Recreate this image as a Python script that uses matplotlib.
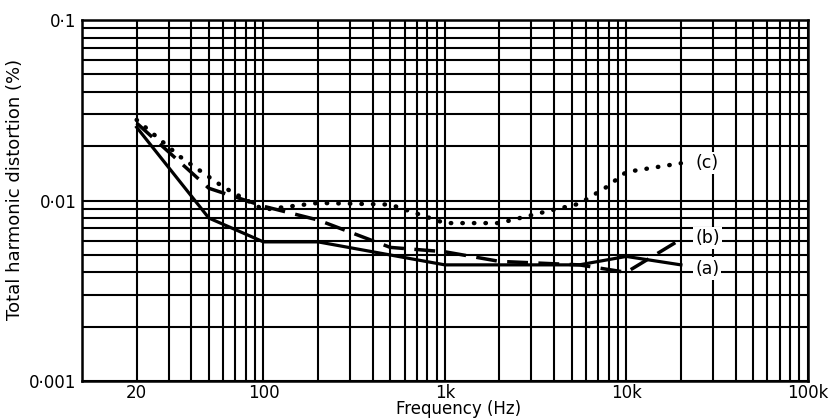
import matplotlib.pyplot as plt
import numpy as np
from matplotlib.ticker import LogLocator, NullFormatter, FixedLocator

plt.rcParams['font.family'] = ['DejaVu Sans']

# curve (a): solid
freq_a = [20, 50, 100, 200, 1000, 5500, 10000, 20000]
thd_a = [0.0255, 0.0080, 0.0059, 0.0059, 0.0044, 0.0044, 0.0049, 0.0044]

# curve (b): dashed
freq_b = [20, 50, 100, 200, 500, 1000, 2000, 5500, 10000, 20000]
thd_b = [0.0269, 0.0117, 0.0093, 0.0078, 0.0055, 0.0052, 0.0046, 0.0044, 0.0040, 0.0061]

# curve (c): dotted
freq_c = [20, 35, 60, 100, 200, 500, 1000, 2000, 3300, 5500, 7800, 10000, 20000]
thd_c = [0.028, 0.0174, 0.0119, 0.0089, 0.0097, 0.0095, 0.0075, 0.0075, 0.0085, 0.0096, 0.0119, 0.0144, 0.0161]

xtick_vals = [20, 100, 1000, 10000, 100000]
xtick_labels = ['20', '100', '1k', '10k', '100k']
ytick_vals = [0.001, 0.01, 0.1]
ytick_labels = ['0·001', '0·01', '0·1']

fig = plt.figure(figsize=(8.37, 4.2), dpi=100)
ax = fig.add_axes([0.098, 0.093, 0.867, 0.859])
ax.set_xscale('log')
ax.set_yscale('log')
ax.set_xlim(10, 100000)
ax.set_ylim(0.001, 0.1)

ax.xaxis.set_minor_locator(LogLocator(base=10, subs=np.arange(1, 10)))
ax.yaxis.set_minor_locator(LogLocator(base=10, subs=np.arange(1, 10)))
ax.xaxis.set_minor_formatter(NullFormatter())
ax.yaxis.set_minor_formatter(NullFormatter())
ax.grid(True, which='both', color='black', linewidth=1.5)
ax.set_axisbelow(True)

ax.xaxis.set_major_locator(FixedLocator(xtick_vals))
ax.set_xticklabels(xtick_labels)
ax.set_yticks(ytick_vals)
ax.set_yticklabels(ytick_labels)
ax.tick_params(which='both', length=0, labelsize=12)
ax.tick_params(axis='x', pad=2)
ax.tick_params(axis='y', pad=4)

for s in ax.spines.values():
    s.set_linewidth(1.8)

ax.plot(freq_a, thd_a, color='black', linewidth=2.3, linestyle='-')
ax.plot(freq_b, thd_b, color='black', linewidth=2.5, linestyle=(0, (6, 3)))
ax.plot(freq_c, thd_c, color='black', linewidth=3.2, linestyle=(0, (0.1, 2.5)),
        dash_capstyle='round')

box = dict(facecolor='white', edgecolor='none', pad=1.5)
ax.text(24000, thd_c[-1], '(c)', fontsize=12.5, va='center', ha='left', bbox=box)
ax.text(24000, 0.0062, '(b)', fontsize=12.5, va='center', ha='left', bbox=box)
ax.text(24000, 0.0042, '(a)', fontsize=12.5, va='center', ha='left', bbox=box)

ax.set_xlabel('Frequency (Hz)', fontsize=12)
ax.xaxis.set_label_coords(0.519, -0.054)
ax.set_ylabel('Total harmonic distortion (%)', fontsize=13)
ax.yaxis.set_label_coords(-0.08, 0.53)

fig.savefig('out.png', dpi=100)
